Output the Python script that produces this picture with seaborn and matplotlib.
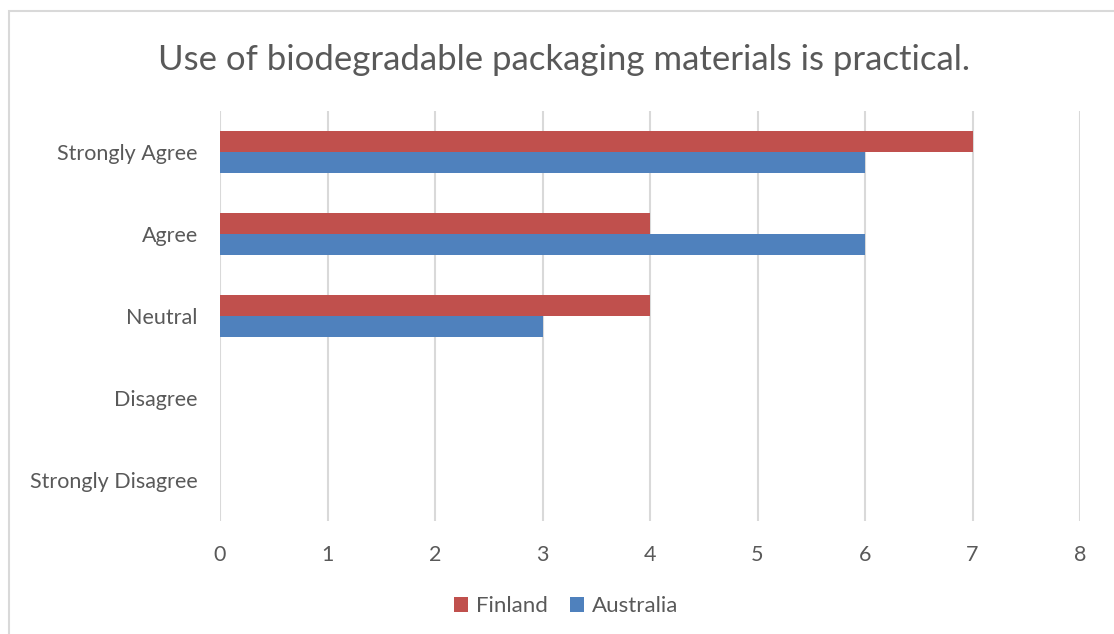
import matplotlib
matplotlib.use("Agg")
import matplotlib.pyplot as plt
from matplotlib.patches import Rectangle, Patch
import seaborn as sns
import pandas as pd

categories = ["Strongly Agree", "Agree", "Neutral", "Disagree", "Strongly Disagree"]
finland = [7, 4, 4, 0, 0]
australia = [6, 6, 3, 0, 0]
series_names = ["Finland", "Australia"]
x_ticks = [0, 1, 2, 3, 4, 5, 6, 7, 8]
title = "Use of biodegradable packaging materials is practical."

colors = {"Finland": "#C0504D", "Australia": "#4F81BD"}
text_color = "#595959"
grid_color = "#D9D9D9"

df = pd.DataFrame({
    "Response": categories * 2,
    "Count": finland + australia,
    "Country": [series_names[0]] * len(categories) + [series_names[1]] * len(categories),
})

sns.set_theme(style="white")
plt.rcParams["font.family"] = ["Lato", "DejaVu Sans"]

fig = plt.figure(figsize=(11.14, 6.34), dpi=100)
ax = fig.add_axes([220 / 1114, 1 - 521 / 634, 860 / 1114, 410 / 634])

sns.barplot(data=df, y="Response", x="Count", hue="Country", order=categories,
            hue_order=series_names, palette=colors, orient="h", width=0.52,
            saturation=1, ax=ax, legend=False, zorder=3)
for p in ax.patches:
    p.set_edgecolor("none")

ax.set_xlim(0, 8)
ax.set_xticks(x_ticks)
ax.set_xticklabels([str(t) for t in x_ticks])
ax.set_ylim(len(categories) - 0.5, -0.5)
ax.grid(axis="x", color=grid_color, linewidth=1.5, zorder=0)
ax.set_axisbelow(True)
for s in ax.spines.values():
    s.set_visible(False)
ax.tick_params(axis="both", length=0, colors=text_color, labelsize=15.5)
ax.tick_params(axis="x", pad=17)
ax.tick_params(axis="y", pad=16)
ax.set_xlabel("")
ax.set_ylabel("")

fig.text(564 / 1114, 1 - 60 / 634, title, ha="center", va="center",
         fontsize=25, color=text_color)

handles = [Patch(facecolor=colors[n], edgecolor="none", label=n) for n in series_names]
leg = fig.legend(handles=handles, loc="center", bbox_to_anchor=(566 / 1114, 1 - 606 / 634),
                 ncol=2, frameon=False, fontsize=16, handlelength=0.65, handleheight=0.65,
                 handletextpad=0.35, columnspacing=1.0)
for t in leg.get_texts():
    t.set_color(text_color)

fig.patches.append(Rectangle((9 / 1114, -0.1), 1.2, 1 - 11 / 634 + 0.1,
                             transform=fig.transFigure, fill=False,
                             edgecolor="#D9D9D9", linewidth=1.5, zorder=0))

fig.savefig("out.png", dpi=100)
